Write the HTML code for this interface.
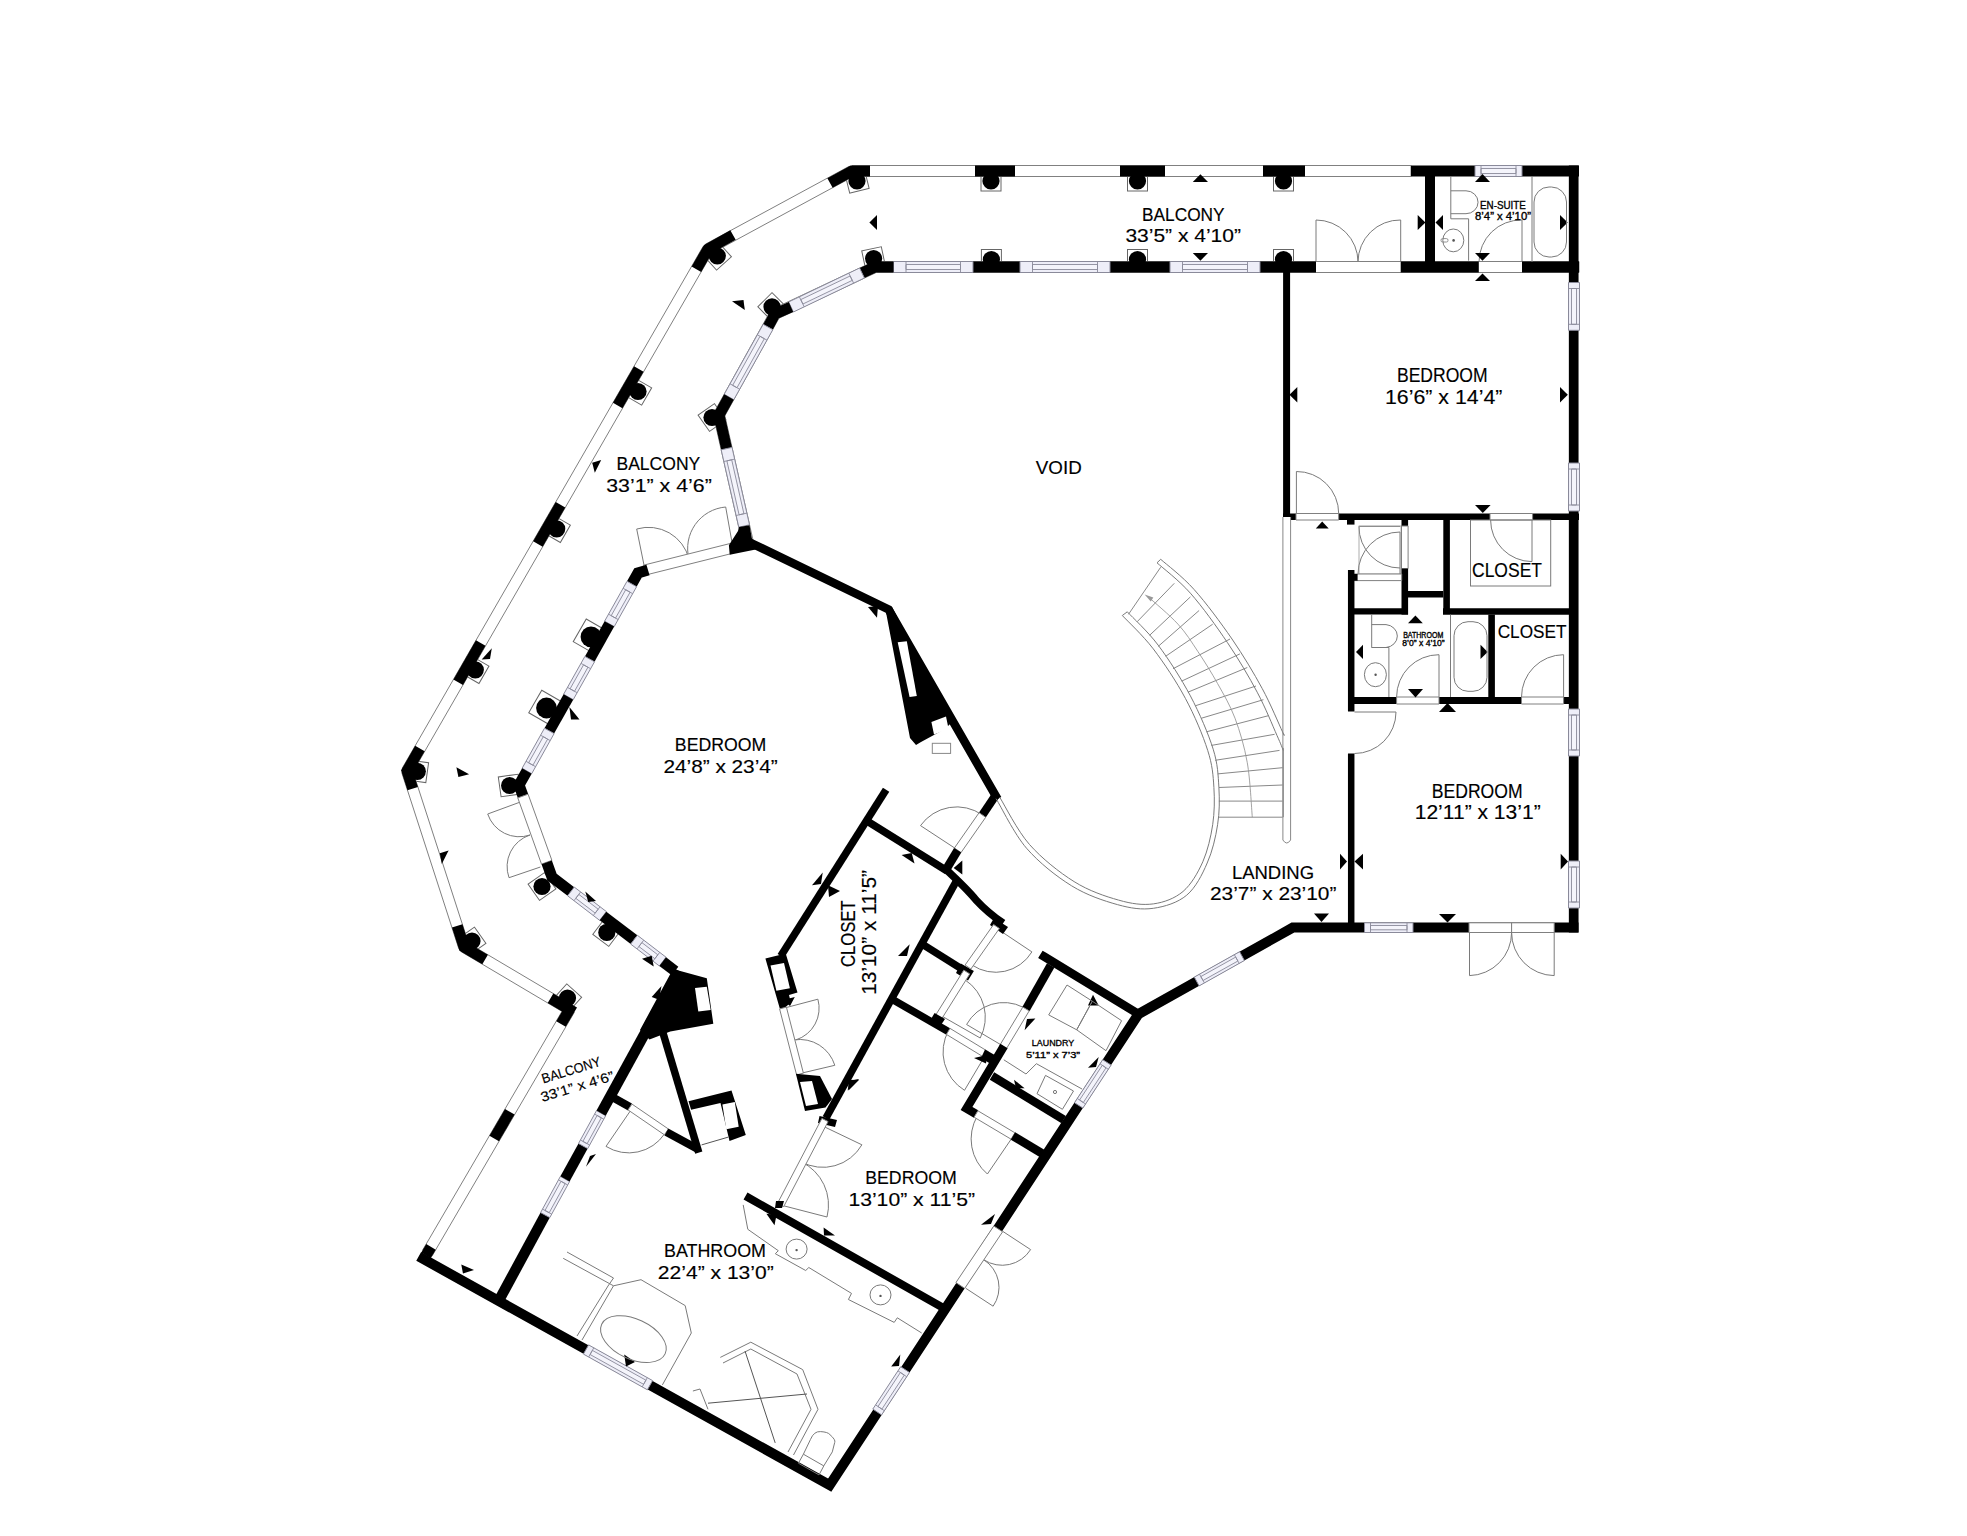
<!DOCTYPE html>
<html><head><meta charset="utf-8"><style>
html,body{margin:0;padding:0;background:#fff;width:1967px;height:1536px;overflow:hidden}
svg{display:block}
text{font-family:"Liberation Sans",sans-serif}
</style></head><body>
<svg width="1967" height="1536" viewBox="0 0 1967 1536">
<rect width="1967" height="1536" fill="#fff"/>
<rect x="847.0" y="171.0" width="20.0" height="20.0" fill="none" stroke="#666" stroke-width="1" transform="rotate(-14 857.0 181.0)"/>
<rect x="981.0" y="171.0" width="20.0" height="20.0" fill="none" stroke="#666" stroke-width="1" transform="rotate(0 991.0 181.0)"/>
<rect x="1127.5" y="171.0" width="20.0" height="20.0" fill="none" stroke="#666" stroke-width="1" transform="rotate(0 1137.5 181.0)"/>
<rect x="1273.5" y="171.0" width="20.0" height="20.0" fill="none" stroke="#666" stroke-width="1" transform="rotate(0 1283.5 181.0)"/>
<rect x="863.6" y="248.6" width="20.0" height="20.0" fill="none" stroke="#666" stroke-width="1" transform="rotate(-12 873.6 258.6)"/>
<rect x="981.4" y="249.5" width="20.0" height="20.0" fill="none" stroke="#666" stroke-width="1" transform="rotate(0 991.4 259.5)"/>
<rect x="1127.5" y="249.5" width="20.0" height="20.0" fill="none" stroke="#666" stroke-width="1" transform="rotate(0 1137.5 259.5)"/>
<rect x="1273.5" y="249.5" width="20.0" height="20.0" fill="none" stroke="#666" stroke-width="1" transform="rotate(0 1283.5 259.5)"/>
<rect x="707.3" y="246.0" width="20.0" height="20.0" fill="none" stroke="#666" stroke-width="1" transform="rotate(-42 717.3 256.0)"/>
<rect x="628.0" y="381.5" width="20.0" height="20.0" fill="none" stroke="#666" stroke-width="1" transform="rotate(30 638.0 391.5)"/>
<rect x="546.7" y="518.8" width="20.0" height="20.0" fill="none" stroke="#666" stroke-width="1" transform="rotate(30 556.7 528.8)"/>
<rect x="465.3" y="659.8" width="20.0" height="20.0" fill="none" stroke="#666" stroke-width="1" transform="rotate(30 475.3 669.8)"/>
<rect x="407.3" y="761.3" width="20.0" height="20.0" fill="none" stroke="#666" stroke-width="1" transform="rotate(8 417.3 771.3)"/>
<rect x="462.0" y="931.0" width="20.0" height="20.0" fill="none" stroke="#666" stroke-width="1" transform="rotate(-35 472.0 941.0)"/>
<rect x="557.5" y="988.0" width="20.0" height="20.0" fill="none" stroke="#666" stroke-width="1" transform="rotate(42 567.5 998.0)"/>
<rect x="762.0" y="296.8" width="20.0" height="20.0" fill="none" stroke="#666" stroke-width="1" transform="rotate(-45 772.0 306.8)"/>
<rect x="702.0" y="407.5" width="20.0" height="20.0" fill="none" stroke="#666" stroke-width="1" transform="rotate(-35 712.0 417.5)"/>
<rect x="578.0" y="623.8" width="26.0" height="26.0" fill="none" stroke="#666" stroke-width="1" transform="rotate(30 591.0 636.8)"/>
<rect x="533.5" y="695.0" width="26.0" height="26.0" fill="none" stroke="#666" stroke-width="1" transform="rotate(30 546.5 708.0)"/>
<rect x="499.6" y="775.5" width="20.0" height="20.0" fill="none" stroke="#666" stroke-width="1" transform="rotate(-8 509.6 785.5)"/>
<rect x="532.0" y="876.5" width="20.0" height="20.0" fill="none" stroke="#666" stroke-width="1" transform="rotate(-35 542.0 886.5)"/>
<rect x="596.8" y="922.4" width="20.0" height="20.0" fill="none" stroke="#666" stroke-width="1" transform="rotate(37 606.8 932.4)"/>
<path d="M1358.0,262.0 A42.0,42.0 0 0 0 1316.0,220.0 L1316.0,262.0" fill="none" stroke="#7a7a7a" stroke-width="1.0"/>
<path d="M1358.0,262.0 A42.0,42.0 0 0 1 1400.7,220.0 L1400.7,262.0" fill="none" stroke="#7a7a7a" stroke-width="1.0"/>
<path d="M1479.0,262.0 A42.0,42.0 0 0 1 1522.0,220.0 L1522.0,262.0" fill="none" stroke="#7a7a7a" stroke-width="1.0"/>
<path d="M1338.7,513.5 A42.0,42.0 0 0 0 1296.4,471.5 L1296.4,513.5" fill="none" stroke="#7a7a7a" stroke-width="1.0"/>
<path d="M1490.6,520.0 A41.6,41.6 0 0 0 1532.0,561.6 L1532.0,520.0" fill="none" stroke="#7a7a7a" stroke-width="1.0"/>
<path d="M1521.5,697.0 A42.3,42.3 0 0 1 1563.6,654.7 L1563.6,697.0" fill="none" stroke="#7a7a7a" stroke-width="1.0"/>
<path d="M1396.6,697.0 A42.3,42.3 0 0 1 1439.0,654.7 L1439.0,697.0" fill="none" stroke="#7a7a7a" stroke-width="1.0"/>
<path d="M1354.5,753.5 A41.5,41.5 0 0 0 1396.0,712.0 L1354.5,712.0" fill="none" stroke="#7a7a7a" stroke-width="1.0"/>
<path d="M1400.0,568.0 A41.0,41.0 0 0 1 1359.0,526.4 L1400.0,526.4" fill="none" stroke="#7a7a7a" stroke-width="1.0"/>
<path d="M1358.0,574.0 A42.0,42.0 0 0 1 1400.0,532.0 L1400.0,574.0" fill="none" stroke="#7a7a7a" stroke-width="1.0"/>
<rect x="1359" y="526" width="42" height="48" fill="none" stroke="#999" stroke-width="0.8"/>
<path d="M1511.6,932.5 A43.1,43.1 0 0 1 1469.5,975.6 L1469.5,932.5" fill="none" stroke="#7a7a7a" stroke-width="1.0"/>
<path d="M1511.6,932.5 A43.1,43.1 0 0 0 1554.2,975.6 L1554.2,932.5" fill="none" stroke="#7a7a7a" stroke-width="1.0"/>
<path d="M983.8,1259.8 A33.6,33.6 0 0 0 1030.6,1249.6 L1002.5,1231.2" fill="none" stroke="#7a7a7a" stroke-width="1.0"/>
<path d="M983.8,1259.8 A32.7,32.7 0 0 1 993.1,1306.2 L965.8,1288.3" fill="none" stroke="#7a7a7a" stroke-width="1.0"/>
<path d="M982.4,815.0 A44.5,44.5 0 0 0 920.5,825.6 L957.7,850.0" fill="none" stroke="#7a7a7a" stroke-width="1.0"/>
<path d="M972.0,965.0 A42.3,42.3 0 0 0 1031.9,951.9 L996.7,928.4" fill="none" stroke="#7a7a7a" stroke-width="1.0"/>
<path d="M965.2,980.0 A44.6,44.6 0 0 1 980.2,1038.0 L941.5,1015.9" fill="none" stroke="#7a7a7a" stroke-width="1.0"/>
<path d="M1023.2,1007.3 A42.3,42.3 0 0 0 966.6,1024.5 L1003.0,1046.0" fill="none" stroke="#7a7a7a" stroke-width="1.0"/>
<path d="M948.7,1030.2 A44.9,44.9 0 0 0 964.5,1090.3 L987.4,1051.7" fill="none" stroke="#7a7a7a" stroke-width="1.0"/>
<path d="M977.3,1116.0 A45.8,45.8 0 0 0 987.4,1174.0 L1013.2,1136.2" fill="none" stroke="#7a7a7a" stroke-width="1.0"/>
<path d="M689.0,559.0 A41.8,41.8 0 0 0 636.7,529.0 L645.0,570.0" fill="none" stroke="#7a7a7a" stroke-width="1.0"/>
<path d="M689.0,559.0 A41.6,41.6 0 0 1 725.7,507.0 L733.0,548.0" fill="none" stroke="#7a7a7a" stroke-width="1.0"/>
<path d="M530.0,835.0 A33.3,33.3 0 0 1 487.7,814.0 L519.0,802.5" fill="none" stroke="#7a7a7a" stroke-width="1.0"/>
<path d="M530.0,835.0 A33.2,33.2 0 0 0 509.0,877.7 L540.4,867.0" fill="none" stroke="#7a7a7a" stroke-width="1.0"/>
<path d="M664.7,1133.7 A43.2,43.2 0 0 1 606.0,1146.4 L630.4,1110.8" fill="none" stroke="#7a7a7a" stroke-width="1.0"/>
<path d="M795.9,1039.9 A33.3,33.3 0 0 0 817.9,999.2 L785.7,1007.7" fill="none" stroke="#7a7a7a" stroke-width="1.0"/>
<path d="M794.2,1039.9 A36.6,36.6 0 0 1 834.8,1065.3 L799.2,1073.7" fill="none" stroke="#7a7a7a" stroke-width="1.0"/>
<path d="M801.0,1161.7 A45.1,45.1 0 0 0 861.9,1144.8 L821.2,1125.3" fill="none" stroke="#7a7a7a" stroke-width="1.0"/>
<path d="M801.0,1161.7 A47.9,47.9 0 0 1 827.0,1217.0 L780.6,1205.0" fill="none" stroke="#7a7a7a" stroke-width="1.0"/>
<polygon points="1411.0,165.5 852.0,165.5 852.0,176.5 1411.0,176.5" fill="#fff" stroke="#808080" stroke-width="1.0"/>
<polygon points="849.4,166.2 705.4,244.2 710.6,253.8 854.6,175.8" fill="#fff" stroke="#808080" stroke-width="1.0"/>
<polygon points="703.2,246.3 402.2,768.3 411.8,773.7 712.8,251.7" fill="#fff" stroke="#808080" stroke-width="1.0"/>
<polygon points="401.8,772.7 458.8,948.7 469.2,945.3 412.2,769.3" fill="#fff" stroke="#808080" stroke-width="1.0"/>
<polygon points="461.2,951.7 566.7,1014.2 572.3,1004.8 466.8,942.3" fill="#fff" stroke="#808080" stroke-width="1.0"/>
<polygon points="564.7,1006.7 422.6,1250.2 432.2,1255.8 574.3,1012.3" fill="#fff" stroke="#808080" stroke-width="1.0"/>
<polyline points="870.0,171.0 852.0,171.0 830.0,183.0" fill="none" stroke="#000" stroke-width="11" stroke-linejoin="miter" stroke-miterlimit="10" stroke-linecap="butt"/>
<line x1="975.0" y1="171.0" x2="1015.0" y2="171.0" stroke="#000" stroke-width="11" stroke-linecap="butt"/>
<line x1="1120.0" y1="171.0" x2="1165.0" y2="171.0" stroke="#000" stroke-width="11" stroke-linecap="butt"/>
<line x1="1263.0" y1="171.0" x2="1305.0" y2="171.0" stroke="#000" stroke-width="11" stroke-linecap="butt"/>
<polyline points="733.0,235.0 708.0,249.0 696.4,269.2" fill="none" stroke="#000" stroke-width="11" stroke-linejoin="miter" stroke-miterlimit="10" stroke-linecap="butt"/>
<line x1="638.8" y1="369.1" x2="617.7" y2="405.6" stroke="#000" stroke-width="11" stroke-linecap="butt"/>
<line x1="560.5" y1="504.8" x2="537.9" y2="543.9" stroke="#000" stroke-width="11" stroke-linecap="butt"/>
<line x1="480.7" y1="643.1" x2="458.2" y2="682.3" stroke="#000" stroke-width="11" stroke-linecap="butt"/>
<polyline points="419.9,748.6 407.0,771.0 412.7,788.6" fill="none" stroke="#000" stroke-width="11" stroke-linejoin="miter" stroke-miterlimit="10" stroke-linecap="butt"/>
<polyline points="457.2,925.9 464.0,947.0 485.1,959.5" fill="none" stroke="#000" stroke-width="11" stroke-linejoin="miter" stroke-miterlimit="10" stroke-linecap="butt"/>
<polyline points="550.5,998.2 569.5,1009.5 561.0,1024.1" fill="none" stroke="#000" stroke-width="11" stroke-linejoin="miter" stroke-miterlimit="10" stroke-linecap="butt"/>
<line x1="509.8" y1="1111.8" x2="494.2" y2="1138.6" stroke="#000" stroke-width="11" stroke-linecap="butt"/>
<line x1="431.0" y1="1246.9" x2="426.0" y2="1255.4" stroke="#000" stroke-width="11" stroke-linecap="butt"/>
<polygon points="1579.0,261.5 875.0,261.5 875.0,272.5 1579.0,272.5" fill="#fff" stroke="#808080" stroke-width="1.0"/>
<polygon points="872.7,262.0 772.7,309.0 777.3,319.0 877.3,272.0" fill="#fff" stroke="#808080" stroke-width="1.0"/>
<polygon points="770.2,311.3 714.2,412.3 723.8,417.7 779.8,316.7" fill="#fff" stroke="#808080" stroke-width="1.0"/>
<polygon points="713.6,416.2 742.6,544.2 753.4,541.8 724.4,413.8" fill="#fff" stroke="#808080" stroke-width="1.0"/>
<line x1="1260.0" y1="267.0" x2="1316.0" y2="267.0" stroke="#000" stroke-width="11" stroke-linecap="butt"/>
<line x1="1400.7" y1="267.0" x2="1478.8" y2="267.0" stroke="#000" stroke-width="11" stroke-linecap="butt"/>
<line x1="1522.0" y1="267.0" x2="1579.0" y2="267.0" stroke="#000" stroke-width="11" stroke-linecap="butt"/>
<line x1="973.0" y1="267.0" x2="1020.0" y2="267.0" stroke="#000" stroke-width="11" stroke-linecap="butt"/>
<line x1="1110.0" y1="267.0" x2="1170.0" y2="267.0" stroke="#000" stroke-width="11" stroke-linecap="butt"/>
<polygon points="893.5,272.5 973.0,272.5 973.0,261.5 893.5,261.5" fill="#eeeef8" stroke="#8a8a9a" stroke-width="1.0"/>
<polygon points="906.0,269.5 960.5,269.5 960.5,264.5 906.0,264.5" fill="#f4f4fb" stroke="#8a8a9a" stroke-width="0.9"/>
<line x1="906.0" y1="272.5" x2="906.0" y2="261.5" stroke="#8a8a9a" stroke-width="0.9"/>
<line x1="960.5" y1="272.5" x2="960.5" y2="261.5" stroke="#8a8a9a" stroke-width="0.9"/>
<polygon points="1020.0,272.5 1110.0,272.5 1110.0,261.5 1020.0,261.5" fill="#eeeef8" stroke="#8a8a9a" stroke-width="1.0"/>
<polygon points="1032.5,269.5 1097.5,269.5 1097.5,264.5 1032.5,264.5" fill="#f4f4fb" stroke="#8a8a9a" stroke-width="0.9"/>
<line x1="1032.5" y1="272.5" x2="1032.5" y2="261.5" stroke="#8a8a9a" stroke-width="0.9"/>
<line x1="1097.5" y1="272.5" x2="1097.5" y2="261.5" stroke="#8a8a9a" stroke-width="0.9"/>
<polygon points="1170.0,272.5 1260.0,272.5 1260.0,261.5 1170.0,261.5" fill="#eeeef8" stroke="#8a8a9a" stroke-width="1.0"/>
<polygon points="1182.5,269.5 1247.5,269.5 1247.5,264.5 1182.5,264.5" fill="#f4f4fb" stroke="#8a8a9a" stroke-width="0.9"/>
<line x1="1182.5" y1="272.5" x2="1182.5" y2="261.5" stroke="#8a8a9a" stroke-width="0.9"/>
<line x1="1247.5" y1="272.5" x2="1247.5" y2="261.5" stroke="#8a8a9a" stroke-width="0.9"/>
<polyline points="893.5,267.0 875.0,267.0 862.0,273.0" fill="none" stroke="#000" stroke-width="11" stroke-linejoin="miter" stroke-miterlimit="10" stroke-linecap="butt"/>
<polygon points="859.6,268.0 788.6,302.0 793.4,312.0 864.4,278.0" fill="#eeeef8" stroke="#8a8a9a" stroke-width="1.0"/>
<polygon points="850.1,276.0 800.8,299.6 802.9,304.0 852.2,280.4" fill="#f4f4fb" stroke="#8a8a9a" stroke-width="0.9"/>
<line x1="848.8" y1="273.2" x2="853.6" y2="283.1" stroke="#8a8a9a" stroke-width="0.9"/>
<line x1="799.4" y1="296.9" x2="804.2" y2="306.8" stroke="#8a8a9a" stroke-width="0.9"/>
<polyline points="791.0,307.0 775.0,314.0 768.0,327.0" fill="none" stroke="#000" stroke-width="11" stroke-linejoin="miter" stroke-miterlimit="10" stroke-linecap="butt"/>
<polygon points="763.2,324.3 724.2,394.3 733.8,399.7 772.8,329.7" fill="#eeeef8" stroke="#8a8a9a" stroke-width="1.0"/>
<polygon points="760.0,336.3 732.7,385.3 737.0,387.7 764.3,338.7" fill="#f4f4fb" stroke="#8a8a9a" stroke-width="0.9"/>
<line x1="757.4" y1="334.8" x2="767.0" y2="340.2" stroke="#8a8a9a" stroke-width="0.9"/>
<line x1="730.0" y1="383.8" x2="739.6" y2="389.2" stroke="#8a8a9a" stroke-width="0.9"/>
<polyline points="729.0,397.0 719.0,415.0 726.6,448.6" fill="none" stroke="#000" stroke-width="11" stroke-linejoin="miter" stroke-miterlimit="10" stroke-linecap="butt"/>
<polygon points="721.2,449.8 738.8,527.2 749.5,524.8 732.0,447.4" fill="#eeeef8" stroke="#8a8a9a" stroke-width="1.0"/>
<polygon points="726.9,460.9 739.1,514.8 743.9,513.7 731.7,459.8" fill="#f4f4fb" stroke="#8a8a9a" stroke-width="0.9"/>
<line x1="723.9" y1="461.5" x2="734.6" y2="459.1" stroke="#8a8a9a" stroke-width="0.9"/>
<line x1="736.1" y1="515.5" x2="746.9" y2="513.1" stroke="#8a8a9a" stroke-width="0.9"/>
<polyline points="418.7,1256.4 829.7,1485.2 1138.5,1014.1 1292.8,927.6 1578.5,927.6" fill="none" stroke="#000" stroke-width="10" stroke-linejoin="miter" stroke-miterlimit="10" stroke-linecap="butt"/>
<polyline points="1573.7,165.4 1573.7,932.5" fill="none" stroke="#000" stroke-width="9.7" stroke-linejoin="miter" stroke-miterlimit="10" stroke-linecap="butt"/>
<line x1="1411.0" y1="171.0" x2="1579.0" y2="171.0" stroke="#000" stroke-width="11" stroke-linecap="butt"/>
<polygon points="1475.0,176.5 1522.0,176.5 1522.0,165.5 1475.0,165.5" fill="#eeeef8" stroke="#8a8a9a" stroke-width="1.0"/>
<polygon points="1481.0,173.5 1516.0,173.5 1516.0,168.5 1481.0,168.5" fill="#f4f4fb" stroke="#8a8a9a" stroke-width="0.9"/>
<line x1="1481.0" y1="176.5" x2="1481.0" y2="165.5" stroke="#8a8a9a" stroke-width="0.9"/>
<line x1="1516.0" y1="176.5" x2="1516.0" y2="165.5" stroke="#8a8a9a" stroke-width="0.9"/>
<polyline points="1430.0,176.0 1430.0,262.0" fill="none" stroke="#000" stroke-width="10" stroke-linejoin="miter" stroke-miterlimit="10" stroke-linecap="butt"/>
<polyline points="1286.6,272.0 1286.6,520.0" fill="none" stroke="#000" stroke-width="7" stroke-linejoin="miter" stroke-miterlimit="10" stroke-linecap="butt"/>
<polyline points="1283.0,516.8 1579.0,516.8" fill="none" stroke="#000" stroke-width="6.5" stroke-linejoin="miter" stroke-miterlimit="10" stroke-linecap="butt"/>
<polygon points="731.8,543.1 643.8,565.1 646.2,574.9 734.2,552.9" fill="#fff" stroke="#808080" stroke-width="1.0"/>
<polygon points="739.1,527.1 749.5,525.3 752.1,539.6 760.0,544.0 755.7,549.5 729.7,554.7 728.9,545.3 738.0,531.0" fill="#000" stroke="none" stroke-width="1"/>
<polyline points="648.0,570.0 638.0,573.0 631.8,584.0" fill="none" stroke="#000" stroke-width="11" stroke-linejoin="miter" stroke-miterlimit="10" stroke-linecap="butt"/>
<polygon points="627.0,581.3 604.6,621.2 614.2,626.6 636.6,586.7" fill="#eeeef8" stroke="#8a8a9a" stroke-width="1.0"/>
<polygon points="625.7,589.8 611.2,615.7 615.5,618.1 630.1,592.2" fill="#f4f4fb" stroke="#8a8a9a" stroke-width="0.9"/>
<line x1="623.1" y1="588.3" x2="632.7" y2="593.7" stroke="#8a8a9a" stroke-width="0.9"/>
<line x1="608.6" y1="614.2" x2="618.2" y2="619.6" stroke="#8a8a9a" stroke-width="0.9"/>
<line x1="609.4" y1="623.9" x2="589.7" y2="659.1" stroke="#000" stroke-width="11" stroke-linecap="butt"/>
<polygon points="584.9,656.4 563.6,694.3 573.2,699.7 594.5,661.8" fill="#eeeef8" stroke="#8a8a9a" stroke-width="1.0"/>
<polygon points="583.6,664.8 570.1,688.8 574.5,691.3 587.9,667.3" fill="#f4f4fb" stroke="#8a8a9a" stroke-width="0.9"/>
<line x1="581.0" y1="663.4" x2="590.6" y2="668.7" stroke="#8a8a9a" stroke-width="0.9"/>
<line x1="567.5" y1="687.4" x2="577.1" y2="692.7" stroke="#8a8a9a" stroke-width="0.9"/>
<line x1="568.4" y1="697.0" x2="549.3" y2="730.9" stroke="#000" stroke-width="11" stroke-linecap="butt"/>
<polygon points="544.5,728.2 522.1,768.3 531.7,773.7 554.1,733.6" fill="#eeeef8" stroke="#8a8a9a" stroke-width="1.0"/>
<polygon points="543.3,736.7 528.6,762.8 532.9,765.2 547.6,739.1" fill="#f4f4fb" stroke="#8a8a9a" stroke-width="0.9"/>
<line x1="540.6" y1="735.2" x2="550.2" y2="740.6" stroke="#8a8a9a" stroke-width="0.9"/>
<line x1="526.0" y1="761.3" x2="535.6" y2="766.7" stroke="#8a8a9a" stroke-width="0.9"/>
<polyline points="526.9,771.0 519.0,785.0 523.0,796.0" fill="none" stroke="#000" stroke-width="11" stroke-linejoin="miter" stroke-miterlimit="10" stroke-linecap="butt"/>
<polygon points="517.8,797.9 541.5,864.1 551.9,860.4 528.1,794.2" fill="#fff" stroke="#808080" stroke-width="1.0"/>
<polyline points="546.7,862.3 552.0,877.0 570.9,891.5" fill="none" stroke="#000" stroke-width="11" stroke-linejoin="miter" stroke-miterlimit="10" stroke-linecap="butt"/>
<polygon points="567.6,895.8 599.7,920.4 606.4,911.6 574.3,887.1" fill="#eeeef8" stroke="#8a8a9a" stroke-width="1.0"/>
<polygon points="575.8,898.3 595.2,913.1 598.2,909.2 578.8,894.4" fill="#f4f4fb" stroke="#8a8a9a" stroke-width="0.9"/>
<line x1="574.0" y1="900.7" x2="580.6" y2="892.0" stroke="#8a8a9a" stroke-width="0.9"/>
<line x1="593.3" y1="915.5" x2="600.0" y2="906.8" stroke="#8a8a9a" stroke-width="0.9"/>
<line x1="603.0" y1="916.0" x2="634.0" y2="939.7" stroke="#000" stroke-width="11" stroke-linecap="butt"/>
<polygon points="630.7,944.1 659.4,966.0 666.0,957.2 637.4,935.3" fill="#eeeef8" stroke="#8a8a9a" stroke-width="1.0"/>
<polygon points="638.9,946.5 654.8,958.7 657.8,954.8 641.9,942.6" fill="#f4f4fb" stroke="#8a8a9a" stroke-width="0.9"/>
<line x1="637.1" y1="948.9" x2="643.7" y2="940.2" stroke="#8a8a9a" stroke-width="0.9"/>
<line x1="653.0" y1="961.1" x2="659.7" y2="952.4" stroke="#8a8a9a" stroke-width="0.9"/>
<line x1="662.7" y1="961.6" x2="675.0" y2="971.0" stroke="#000" stroke-width="11" stroke-linecap="butt"/>
<polyline points="751.0,543.0 888.6,609.5 995.5,795.5" fill="none" stroke="#000" stroke-width="8.5" stroke-linejoin="miter" stroke-miterlimit="10" stroke-linecap="square"/>
<polyline points="995.5,795.5 982.4,815.0" fill="none" stroke="#000" stroke-width="8.5" stroke-linejoin="miter" stroke-miterlimit="10" stroke-linecap="butt"/>
<polygon points="979.1,812.7 954.4,848.0 961.0,852.6 985.7,817.3" fill="#fff" stroke="#808080" stroke-width="1.0"/>
<polyline points="957.7,850.3 947.0,868.0" fill="none" stroke="#000" stroke-width="8.5" stroke-linejoin="miter" stroke-miterlimit="10" stroke-linecap="butt"/>
<polygon points="885.0,607.0 892.0,607.0 952.0,722.0 945.0,729.0 921.0,742.0 916.0,745.0 910.0,738.0" fill="#000" stroke="none" stroke-width="1"/>
<polygon points="897.7,642.2 906.8,641.2 916.8,696.0 909.6,696.9" fill="#fff" stroke="none" stroke-width="1"/>
<polygon points="931.4,722.0 946.0,716.5 948.6,729.0 934.0,734.5" fill="#fff" stroke="none" stroke-width="1"/>
<rect x="932.3" y="743.3" width="18.3" height="10.1" fill="none" stroke="#888" stroke-width="1"/>
<line x1="497.5" y1="1303.0" x2="545.2" y2="1215.1" stroke="#000" stroke-width="10.5" stroke-linecap="butt"/>
<polygon points="549.8,1217.6 569.6,1181.5 560.4,1176.4 540.6,1212.6" fill="#eeeef8" stroke="#8a8a9a" stroke-width="1.0"/>
<polygon points="549.2,1212.7 565.2,1183.6 561.0,1181.3 545.0,1210.5" fill="#f4f4fb" stroke="#8a8a9a" stroke-width="0.9"/>
<line x1="551.7" y1="1214.1" x2="542.5" y2="1209.1" stroke="#8a8a9a" stroke-width="0.9"/>
<line x1="567.7" y1="1185.0" x2="558.5" y2="1179.9" stroke="#8a8a9a" stroke-width="0.9"/>
<line x1="565.0" y1="1178.9" x2="583.1" y2="1146.0" stroke="#000" stroke-width="10.5" stroke-linecap="butt"/>
<polygon points="587.7,1148.6 605.7,1115.7 596.5,1110.6 578.5,1143.5" fill="#eeeef8" stroke="#8a8a9a" stroke-width="1.0"/>
<polygon points="587.1,1143.7 601.3,1117.8 597.1,1115.5 582.9,1141.4" fill="#f4f4fb" stroke="#8a8a9a" stroke-width="0.9"/>
<line x1="589.6" y1="1145.0" x2="580.4" y2="1140.0" stroke="#8a8a9a" stroke-width="0.9"/>
<line x1="603.8" y1="1119.2" x2="594.6" y2="1114.1" stroke="#8a8a9a" stroke-width="0.9"/>
<line x1="601.1" y1="1113.1" x2="679.1" y2="971.0" stroke="#000" stroke-width="10.5" stroke-linecap="butt"/>
<polygon points="673.0,969.0 706.8,978.2 713.3,1023.8 670.3,1031.6 649.5,1039.4 640.0,1030.0" fill="#000" stroke="none" stroke-width="1"/>
<polygon points="695.0,988.0 706.8,986.7 710.7,1010.1 698.3,1011.4" fill="#fff" stroke="none" stroke-width="1"/>
<polyline points="663.0,1033.0 697.7,1149.0" fill="none" stroke="#000" stroke-width="7.5" stroke-linejoin="miter" stroke-miterlimit="10" stroke-linecap="square"/>
<polyline points="613.9,1098.0 630.0,1107.0" fill="none" stroke="#000" stroke-width="8" stroke-linejoin="miter" stroke-miterlimit="10" stroke-linecap="butt"/>
<polygon points="628.0,1109.9 664.4,1134.8 668.4,1129.0 632.0,1104.1" fill="#fff" stroke="#808080" stroke-width="1.0"/>
<polyline points="666.4,1131.9 697.7,1149.0" fill="none" stroke="#000" stroke-width="8" stroke-linejoin="miter" stroke-miterlimit="10" stroke-linecap="butt"/>
<polygon points="688.5,1101.2 731.5,1090.6 745.8,1135.1 729.5,1141.0 720.5,1103.0 691.1,1109.8" fill="#000" stroke="none" stroke-width="1"/>
<polygon points="722.4,1104.5 734.8,1101.9 738.7,1126.7 726.3,1129.3" fill="#fff" stroke="none" stroke-width="1"/>
<path d="M701.6,1144.9 L728.3,1137.1" fill="none" stroke="#555" stroke-width="1"/>
<polyline points="886.1,789.8 780.8,956.0" fill="none" stroke="#000" stroke-width="7.5" stroke-linejoin="miter" stroke-miterlimit="10" stroke-linecap="butt"/>
<polyline points="867.8,821.5 947.2,871.0" fill="none" stroke="#000" stroke-width="7.5" stroke-linejoin="miter" stroke-miterlimit="10" stroke-linecap="butt"/>
<path d="M945,868.5 Q968,890 976,900 Q988,913 1003.2,923.2" fill="none" stroke="#000" stroke-width="7.5"/>
<polygon points="994.0,918.0 1008.0,927.0 1003.0,934.0 990.0,925.0" fill="#000" stroke="none" stroke-width="1"/>
<polyline points="957.5,879.0 826.0,1118.0" fill="none" stroke="#000" stroke-width="7.5" stroke-linejoin="miter" stroke-miterlimit="10" stroke-linecap="butt"/>
<polyline points="921.0,943.4 966.8,972.2" fill="none" stroke="#000" stroke-width="7.5" stroke-linejoin="miter" stroke-miterlimit="10" stroke-linecap="butt"/>
<polygon points="960.8,963.4 973.9,971.0 968.0,980.4 956.0,973.0" fill="#000" stroke="none" stroke-width="1"/>
<polygon points="970.9,969.0 999.4,928.5 993.6,924.5 965.1,965.0" fill="#fff" stroke="#808080" stroke-width="1.0"/>
<polyline points="889.0,997.5 948.2,1031.4" fill="none" stroke="#000" stroke-width="7.5" stroke-linejoin="miter" stroke-miterlimit="10" stroke-linecap="butt"/>
<polygon points="946.4,1034.4 985.2,1058.0 988.8,1052.0 950.0,1028.4" fill="#fff" stroke="#808080" stroke-width="1.0"/>
<polygon points="985.0,1049.4 1000.0,1058.0 994.0,1066.0 981.0,1058.0" fill="#000" stroke="none" stroke-width="1"/>
<polygon points="963.8,970.1 935.0,1016.1 941.0,1019.9 969.8,973.9" fill="#fff" stroke="#808080" stroke-width="1.0"/>
<polygon points="934.6,1013.0 945.0,1019.0 941.0,1025.0 931.0,1019.0" fill="#000" stroke="none" stroke-width="1"/>
<polygon points="765.4,958.6 785.7,953.5 797.5,992.5 789.0,995.0 790.8,1002.6 784.0,1008.5 779.8,1008.5" fill="#000" stroke="none" stroke-width="1"/>
<polygon points="770.5,965.4 784.0,962.9 789.9,988.2 776.4,990.8" fill="#fff" stroke="none" stroke-width="1"/>
<polygon points="779.6,1008.9 796.6,1074.9 803.4,1073.1 786.4,1007.1" fill="#fff" stroke="#808080" stroke-width="1.0"/>
<polygon points="795.9,1073.7 820.0,1076.0 832.0,1099.0 825.5,1107.6 805.0,1111.0" fill="#000" stroke="none" stroke-width="1"/>
<polygon points="800.0,1082.0 812.0,1081.0 818.0,1104.0 806.0,1106.0" fill="#fff" stroke="none" stroke-width="1"/>
<polygon points="819.5,1116.0 837.0,1120.0 835.0,1127.0 818.0,1123.0" fill="#000" stroke="none" stroke-width="1"/>
<polygon points="821.9,1118.4 777.5,1203.4 783.7,1206.6 828.1,1121.6" fill="#fff" stroke="#808080" stroke-width="1.0"/>
<polygon points="776.0,1201.0 784.0,1201.0 782.0,1208.0 775.0,1208.0" fill="#000" stroke="none" stroke-width="1"/>
<polyline points="749.0,1198.0 940.0,1306.0" fill="none" stroke="#000" stroke-width="8" stroke-linejoin="miter" stroke-miterlimit="10" stroke-linecap="square"/>
<polyline points="1044.0,956.5 1135.0,1012.0" fill="none" stroke="#000" stroke-width="8.5" stroke-linejoin="miter" stroke-miterlimit="10" stroke-linecap="square"/>
<polyline points="1050.7,965.4 1026.0,1009.0" fill="none" stroke="#000" stroke-width="8.5" stroke-linejoin="miter" stroke-miterlimit="10" stroke-linecap="butt"/>
<polygon points="1022.8,1007.1 999.3,1046.1 1005.7,1049.9 1029.2,1010.9" fill="#fff" stroke="#808080" stroke-width="1.0"/>
<polyline points="1004.0,1046.0 966.5,1108.5 976.0,1114.0" fill="none" stroke="#000" stroke-width="8.5" stroke-linejoin="miter" stroke-miterlimit="10" stroke-linecap="butt"/>
<polyline points="992.0,1076.0 1063.7,1119.7" fill="none" stroke="#000" stroke-width="8.5" stroke-linejoin="miter" stroke-miterlimit="10" stroke-linecap="butt"/>
<polygon points="974.1,1117.2 1011.1,1139.2 1014.9,1132.8 977.9,1110.8" fill="#fff" stroke="#808080" stroke-width="1.0"/>
<polyline points="1013.0,1136.0 1048.0,1157.0" fill="none" stroke="#000" stroke-width="8.5" stroke-linejoin="miter" stroke-miterlimit="10" stroke-linecap="butt"/>
<polygon points="1296.0,520.0 1338.7,520.0 1338.7,513.5 1296.0,513.5" fill="#fff" stroke="#808080" stroke-width="1.0"/>
<polygon points="1490.0,520.0 1532.6,520.0 1532.6,513.5 1490.0,513.5" fill="#fff" stroke="#808080" stroke-width="1.0"/>
<polygon points="1347.0,517.0 1354.5,517.0 1354.5,524.6 1347.0,524.6" fill="#000" stroke="none" stroke-width="1"/>
<polyline points="1404.8,520.0 1404.8,526.0" fill="none" stroke="#000" stroke-width="6.6" stroke-linejoin="miter" stroke-miterlimit="10" stroke-linecap="butt"/>
<polygon points="1401.5,526.0 1401.5,568.6 1408.1,568.6 1408.1,526.0" fill="#fff" stroke="#808080" stroke-width="1.0"/>
<polyline points="1404.8,568.6 1404.8,614.6" fill="none" stroke="#000" stroke-width="6.6" stroke-linejoin="miter" stroke-miterlimit="10" stroke-linecap="butt"/>
<polygon points="1354.0,580.6 1401.7,580.6 1401.7,574.0 1354.0,574.0" fill="#fff" stroke="#808080" stroke-width="1.0"/>
<polygon points="1354.0,574.0 1357.6,574.0 1357.6,580.7 1354.0,580.7" fill="#000" stroke="none" stroke-width="1"/>
<polyline points="1408.0,594.2 1443.3,594.2" fill="none" stroke="#000" stroke-width="6.4" stroke-linejoin="miter" stroke-miterlimit="10" stroke-linecap="butt"/>
<polyline points="1446.6,520.0 1446.6,611.7" fill="none" stroke="#000" stroke-width="6.6" stroke-linejoin="miter" stroke-miterlimit="10" stroke-linecap="butt"/>
<polyline points="1443.0,611.5 1569.0,611.5" fill="none" stroke="#000" stroke-width="6.3" stroke-linejoin="miter" stroke-miterlimit="10" stroke-linecap="butt"/>
<polyline points="1351.2,570.0 1351.2,711.4" fill="none" stroke="#000" stroke-width="6.5" stroke-linejoin="miter" stroke-miterlimit="10" stroke-linecap="butt"/>
<polyline points="1351.2,753.5 1351.2,927.0" fill="none" stroke="#000" stroke-width="6.5" stroke-linejoin="miter" stroke-miterlimit="10" stroke-linecap="butt"/>
<polyline points="1348.0,611.3 1408.0,611.3" fill="none" stroke="#000" stroke-width="6.3" stroke-linejoin="miter" stroke-miterlimit="10" stroke-linecap="butt"/>
<polyline points="1348.0,700.5 1569.0,700.5" fill="none" stroke="#000" stroke-width="7" stroke-linejoin="miter" stroke-miterlimit="10" stroke-linecap="butt"/>
<polygon points="1396.6,704.0 1439.0,704.0 1439.0,697.0 1396.6,697.0" fill="#fff" stroke="#808080" stroke-width="1.0"/>
<polygon points="1521.5,704.0 1563.6,704.0 1563.6,697.0 1521.5,697.0" fill="#fff" stroke="#808080" stroke-width="1.0"/>
<polyline points="1491.6,614.6 1491.6,697.0" fill="none" stroke="#000" stroke-width="6.6" stroke-linejoin="miter" stroke-miterlimit="10" stroke-linecap="butt"/>
<polygon points="1364.5,932.5 1413.0,932.5 1413.0,922.8 1364.5,922.8" fill="#eeeef8" stroke="#8a8a9a" stroke-width="1.0"/>
<polygon points="1370.5,929.8 1407.0,929.8 1407.0,925.5 1370.5,925.5" fill="#f4f4fb" stroke="#8a8a9a" stroke-width="0.9"/>
<line x1="1370.5" y1="932.5" x2="1370.5" y2="922.8" stroke="#8a8a9a" stroke-width="0.9"/>
<line x1="1407.0" y1="932.5" x2="1407.0" y2="922.8" stroke="#8a8a9a" stroke-width="0.9"/>
<polygon points="1469.0,932.5 1554.2,932.5 1554.2,922.8 1469.0,922.8" fill="#fff" stroke="#808080" stroke-width="1.0"/>
<path d="M1511.6,922.8 L1511.6,932.5" fill="none" stroke="#777" stroke-width="1.0"/>
<polygon points="1568.5,282.5 1568.5,330.3 1579.5,330.3 1579.5,282.5" fill="#eeeef8" stroke="#8a8a9a" stroke-width="1.0"/>
<polygon points="1571.5,288.5 1571.5,324.3 1576.5,324.3 1576.5,288.5" fill="#f4f4fb" stroke="#8a8a9a" stroke-width="0.9"/>
<line x1="1568.5" y1="288.5" x2="1579.5" y2="288.5" stroke="#8a8a9a" stroke-width="0.9"/>
<line x1="1568.5" y1="324.3" x2="1579.5" y2="324.3" stroke="#8a8a9a" stroke-width="0.9"/>
<polygon points="1568.5,463.0 1568.5,511.0 1579.5,511.0 1579.5,463.0" fill="#eeeef8" stroke="#8a8a9a" stroke-width="1.0"/>
<polygon points="1571.5,469.0 1571.5,505.0 1576.5,505.0 1576.5,469.0" fill="#f4f4fb" stroke="#8a8a9a" stroke-width="0.9"/>
<line x1="1568.5" y1="469.0" x2="1579.5" y2="469.0" stroke="#8a8a9a" stroke-width="0.9"/>
<line x1="1568.5" y1="505.0" x2="1579.5" y2="505.0" stroke="#8a8a9a" stroke-width="0.9"/>
<polygon points="1568.5,709.0 1568.5,756.0 1579.5,756.0 1579.5,709.0" fill="#eeeef8" stroke="#8a8a9a" stroke-width="1.0"/>
<polygon points="1571.5,715.0 1571.5,750.0 1576.5,750.0 1576.5,715.0" fill="#f4f4fb" stroke="#8a8a9a" stroke-width="0.9"/>
<line x1="1568.5" y1="715.0" x2="1579.5" y2="715.0" stroke="#8a8a9a" stroke-width="0.9"/>
<line x1="1568.5" y1="750.0" x2="1579.5" y2="750.0" stroke="#8a8a9a" stroke-width="0.9"/>
<polygon points="1568.5,861.0 1568.5,908.0 1579.5,908.0 1579.5,861.0" fill="#eeeef8" stroke="#8a8a9a" stroke-width="1.0"/>
<polygon points="1571.5,867.0 1571.5,902.0 1576.5,902.0 1576.5,867.0" fill="#f4f4fb" stroke="#8a8a9a" stroke-width="0.9"/>
<line x1="1568.5" y1="867.0" x2="1579.5" y2="867.0" stroke="#8a8a9a" stroke-width="0.9"/>
<line x1="1568.5" y1="902.0" x2="1579.5" y2="902.0" stroke="#8a8a9a" stroke-width="0.9"/>
<path d="M1282.9,517 L1282.9,840 Q1286.7,846 1290.6,840 L1290.6,517" fill="#fff" stroke="#888" stroke-width="1"/>
<polygon points="1199.1,985.9 1244.4,960.5 1239.6,951.7 1194.3,977.1" fill="#eeeef8" stroke="#8a8a9a" stroke-width="1.0"/>
<polygon points="1203.0,980.5 1237.9,961.0 1235.7,957.1 1200.8,976.6" fill="#f4f4fb" stroke="#8a8a9a" stroke-width="0.9"/>
<line x1="1204.4" y1="982.9" x2="1199.5" y2="974.2" stroke="#8a8a9a" stroke-width="0.9"/>
<line x1="1239.2" y1="963.4" x2="1234.3" y2="954.7" stroke="#8a8a9a" stroke-width="0.9"/>
<polygon points="1082.9,1108.1 1111.1,1065.1 1102.7,1059.7 1074.5,1102.7" fill="#eeeef8" stroke="#8a8a9a" stroke-width="1.0"/>
<polygon points="1083.3,1102.5 1106.0,1067.8 1102.3,1065.3 1079.6,1100.0" fill="#f4f4fb" stroke="#8a8a9a" stroke-width="0.9"/>
<line x1="1085.6" y1="1104.0" x2="1077.3" y2="1098.5" stroke="#8a8a9a" stroke-width="0.9"/>
<line x1="1108.3" y1="1069.3" x2="1100.0" y2="1063.8" stroke="#8a8a9a" stroke-width="0.9"/>
<polygon points="964.7,1288.4 1002.6,1231.8 993.8,1226.0 955.9,1282.6" fill="#fff" stroke="#808080" stroke-width="1.0"/>
<polygon points="881.6,1414.9 909.5,1372.5 900.7,1366.7 872.8,1409.1" fill="#eeeef8" stroke="#8a8a9a" stroke-width="1.0"/>
<polygon points="881.9,1409.1 904.3,1375.1 900.4,1372.5 878.0,1406.5" fill="#f4f4fb" stroke="#8a8a9a" stroke-width="0.9"/>
<line x1="884.3" y1="1410.7" x2="875.6" y2="1404.9" stroke="#8a8a9a" stroke-width="0.9"/>
<line x1="906.7" y1="1376.7" x2="898.0" y2="1370.9" stroke="#8a8a9a" stroke-width="0.9"/>
<polygon points="583.4,1354.1 647.4,1389.8 652.6,1380.6 588.6,1344.9" fill="#eeeef8" stroke="#8a8a9a" stroke-width="1.0"/>
<polygon points="590.1,1354.5 643.6,1384.3 645.9,1380.2 592.4,1350.4" fill="#f4f4fb" stroke="#8a8a9a" stroke-width="0.9"/>
<line x1="588.7" y1="1357.0" x2="593.8" y2="1347.8" stroke="#8a8a9a" stroke-width="0.9"/>
<line x1="642.2" y1="1386.9" x2="647.3" y2="1377.7" stroke="#8a8a9a" stroke-width="0.9"/>
<circle cx="857.0" cy="181.0" r="8.6" fill="#000"/>
<circle cx="991.0" cy="181.0" r="8.6" fill="#000"/>
<circle cx="1137.5" cy="181.0" r="8.6" fill="#000"/>
<circle cx="1283.5" cy="181.0" r="8.6" fill="#000"/>
<circle cx="873.6" cy="258.6" r="8.6" fill="#000"/>
<circle cx="991.4" cy="259.5" r="8.6" fill="#000"/>
<circle cx="1137.5" cy="259.5" r="8.6" fill="#000"/>
<circle cx="1283.5" cy="259.5" r="8.6" fill="#000"/>
<circle cx="717.3" cy="256.0" r="8.6" fill="#000"/>
<circle cx="638.0" cy="391.5" r="8.6" fill="#000"/>
<circle cx="556.7" cy="528.8" r="8.6" fill="#000"/>
<circle cx="475.3" cy="669.8" r="8.6" fill="#000"/>
<circle cx="417.3" cy="771.3" r="8.6" fill="#000"/>
<circle cx="472.0" cy="941.0" r="8.6" fill="#000"/>
<circle cx="567.5" cy="998.0" r="8.6" fill="#000"/>
<circle cx="772.0" cy="306.8" r="8.6" fill="#000"/>
<circle cx="712.0" cy="417.5" r="8.6" fill="#000"/>
<circle cx="591.0" cy="636.8" r="10.4" fill="#000"/>
<circle cx="546.5" cy="708.0" r="10.4" fill="#000"/>
<circle cx="509.6" cy="785.5" r="8.6" fill="#000"/>
<circle cx="542.0" cy="886.5" r="8.6" fill="#000"/>
<circle cx="606.8" cy="932.4" r="8.6" fill="#000"/>
<text x="1183.3" y="221.3" font-size="18.2" text-anchor="middle" textLength="82.6" lengthAdjust="spacingAndGlyphs" fill="#000" stroke="#000" stroke-width="0.15">BALCONY</text>
<text x="1183.2" y="241.7" font-size="18.2" text-anchor="middle" textLength="115.6" lengthAdjust="spacingAndGlyphs" fill="#000" stroke="#000" stroke-width="0.15">33’5” x 4’10”</text>
<text x="658.4" y="470.3" font-size="18.2" text-anchor="middle" textLength="83.9" lengthAdjust="spacingAndGlyphs" fill="#000" stroke="#000" stroke-width="0.15">BALCONY</text>
<text x="659.0" y="491.9" font-size="18.2" text-anchor="middle" textLength="105.5" lengthAdjust="spacingAndGlyphs" fill="#000" stroke="#000" stroke-width="0.15">33’1” x 4’6”</text>
<text x="1058.8" y="474.0" font-size="19.2" text-anchor="middle" textLength="45.9" lengthAdjust="spacingAndGlyphs" fill="#000" stroke="#000" stroke-width="0.15">VOID</text>
<text x="1442.3" y="382.0" font-size="19.4" text-anchor="middle" textLength="90.7" lengthAdjust="spacingAndGlyphs" fill="#000" stroke="#000" stroke-width="0.15">BEDROOM</text>
<text x="1443.7" y="403.5" font-size="19.4" text-anchor="middle" textLength="117.4" lengthAdjust="spacingAndGlyphs" fill="#000" stroke="#000" stroke-width="0.15">16’6” x 14’4”</text>
<text x="720.6" y="751.0" font-size="18.6" text-anchor="middle" textLength="91.5" lengthAdjust="spacingAndGlyphs" fill="#000" stroke="#000" stroke-width="0.15">BEDROOM</text>
<text x="720.6" y="772.8" font-size="18.6" text-anchor="middle" textLength="114.4" lengthAdjust="spacingAndGlyphs" fill="#000" stroke="#000" stroke-width="0.15">24’8” x 23’4”</text>
<text x="1477.2" y="798.0" font-size="19.4" text-anchor="middle" textLength="90.8" lengthAdjust="spacingAndGlyphs" fill="#000" stroke="#000" stroke-width="0.15">BEDROOM</text>
<text x="1477.7" y="819.4" font-size="19.4" text-anchor="middle" textLength="126.0" lengthAdjust="spacingAndGlyphs" fill="#000" stroke="#000" stroke-width="0.15">12’11” x 13’1”</text>
<text x="1273.0" y="878.9" font-size="19.2" text-anchor="middle" textLength="82.2" lengthAdjust="spacingAndGlyphs" fill="#000" stroke="#000" stroke-width="0.15">LANDING</text>
<text x="1273.2" y="900.4" font-size="19.2" text-anchor="middle" textLength="126.5" lengthAdjust="spacingAndGlyphs" fill="#000" stroke="#000" stroke-width="0.15">23’7” x 23’10”</text>
<text x="1507.0" y="577.3" font-size="20.4" text-anchor="middle" textLength="70.0" lengthAdjust="spacingAndGlyphs" fill="#000" stroke="#000" stroke-width="0.15">CLOSET</text>
<text x="1532.1" y="637.5" font-size="18.6" text-anchor="middle" textLength="68.8" lengthAdjust="spacingAndGlyphs" fill="#000" stroke="#000" stroke-width="0.15">CLOSET</text>
<text x="1423.2" y="638.0" font-size="8.2" text-anchor="middle" textLength="40.1" lengthAdjust="spacingAndGlyphs" fill="#000" stroke="#000" stroke-width="0.35">BATHROOM</text>
<text x="1423.5" y="646.1" font-size="8.2" text-anchor="middle" textLength="42.4" lengthAdjust="spacingAndGlyphs" fill="#000" stroke="#000" stroke-width="0.35">8’0” x 4’10”</text>
<text x="1502.9" y="208.6" font-size="10.6" text-anchor="middle" textLength="45.8" lengthAdjust="spacingAndGlyphs" fill="#000" stroke="#000" stroke-width="0.35">EN-SUITE</text>
<text x="1503.0" y="220.0" font-size="10.6" text-anchor="middle" textLength="55.9" lengthAdjust="spacingAndGlyphs" fill="#000" stroke="#000" stroke-width="0.35">8’4” x 4’10”</text>
<text x="855.0" y="933.6" font-size="19.6" text-anchor="middle" textLength="66.7" lengthAdjust="spacingAndGlyphs" fill="#000" stroke="#000" stroke-width="0.15" transform="rotate(-90 855.0 933.6)">CLOSET</text>
<text x="876.4" y="932.4" font-size="19.6" text-anchor="middle" textLength="124.8" lengthAdjust="spacingAndGlyphs" fill="#000" stroke="#000" stroke-width="0.15" transform="rotate(-90 876.4 932.4)">13’10” x 11’5”</text>
<text x="911.0" y="1183.6" font-size="18.6" text-anchor="middle" textLength="91.5" lengthAdjust="spacingAndGlyphs" fill="#000" stroke="#000" stroke-width="0.15">BEDROOM</text>
<text x="911.7" y="1205.5" font-size="18.6" text-anchor="middle" textLength="126.6" lengthAdjust="spacingAndGlyphs" fill="#000" stroke="#000" stroke-width="0.15">13’10” x 11’5”</text>
<text x="715.0" y="1257.4" font-size="18.6" text-anchor="middle" textLength="102.1" lengthAdjust="spacingAndGlyphs" fill="#000" stroke="#000" stroke-width="0.15">BATHROOM</text>
<text x="715.8" y="1278.7" font-size="18.6" text-anchor="middle" textLength="115.9" lengthAdjust="spacingAndGlyphs" fill="#000" stroke="#000" stroke-width="0.15">22’4” x 13’0”</text>
<text x="1053.0" y="1046.3" font-size="9.4" text-anchor="middle" textLength="42.3" lengthAdjust="spacingAndGlyphs" fill="#000" stroke="#000" stroke-width="0.35">LAUNDRY</text>
<text x="1053.0" y="1057.8" font-size="9.4" text-anchor="middle" textLength="54.0" lengthAdjust="spacingAndGlyphs" fill="#000" stroke="#000" stroke-width="0.35">5’11” x 7’3”</text>
<text x="572.5" y="1074.5" font-size="13.6" text-anchor="middle" textLength="61.0" lengthAdjust="spacingAndGlyphs" fill="#000" stroke="#000" stroke-width="0.15" transform="rotate(-17 572.5 1074.5)">BALCONY</text>
<text x="578.5" y="1091.0" font-size="13.6" text-anchor="middle" textLength="76.0" lengthAdjust="spacingAndGlyphs" fill="#000" stroke="#000" stroke-width="0.15" transform="rotate(-17 578.5 1091.0)">33’1” x 4’6”</text>
<polygon points="1200.4,174.3 1208.0,182.0 1192.8,182.0" fill="#000"/>
<polygon points="1192.8,253.0 1208.0,253.0 1200.4,260.7" fill="#000"/>
<polygon points="869.4,222.5 877.0,215.0 877.0,230.0" fill="#000"/>
<polygon points="1417.7,215.0 1425.4,222.5 1417.7,230.0" fill="#000"/>
<polygon points="1435.5,222.5 1443.0,215.0 1443.0,230.0" fill="#000"/>
<polygon points="1560.0,215.0 1567.7,222.5 1560.0,230.0" fill="#000"/>
<polygon points="1482.5,174.0 1490.0,182.0 1475.0,182.0" fill="#000"/>
<polygon points="1475.0,253.0 1490.0,253.0 1482.5,260.7" fill="#000"/>
<polygon points="1482.5,273.5 1490.0,281.0 1475.0,281.0" fill="#000"/>
<polygon points="1289.5,394.8 1297.3,387.0 1297.3,402.5" fill="#000"/>
<polygon points="1560.0,387.0 1567.8,394.8 1560.0,402.5" fill="#000"/>
<polygon points="1475.0,505.0 1490.6,505.0 1482.8,513.0" fill="#000"/>
<polygon points="1322.2,521.5 1328.7,528.6 1315.8,528.6" fill="#000"/>
<polygon points="1415.4,615.5 1422.8,623.3 1408.0,623.3" fill="#000"/>
<polygon points="1408.0,689.0 1423.0,689.0 1415.5,697.6" fill="#000"/>
<polygon points="1356.0,651.9 1363.0,644.7 1363.0,659.0" fill="#000"/>
<polygon points="1480.5,644.7 1487.7,651.9 1480.5,659.0" fill="#000"/>
<polygon points="1447.5,703.0 1456.0,712.0 1439.0,712.0" fill="#000"/>
<polygon points="1439.0,914.0 1456.0,914.0 1447.5,922.5" fill="#000"/>
<polygon points="1354.5,861.6 1363.0,853.8 1363.0,869.5" fill="#000"/>
<polygon points="1340.0,853.8 1347.0,861.6 1340.0,869.5" fill="#000"/>
<polygon points="1560.7,853.8 1568.0,861.6 1560.7,869.5" fill="#000"/>
<polygon points="1314.0,913.6 1329.0,913.6 1321.5,922.0" fill="#000"/>
<polygon points="732.0,301.2 743.5,300.0 744.8,310.1" fill="#000"/>
<polygon points="592.2,462.7 601.2,460.1 594.8,472.8" fill="#000"/>
<polygon points="456.4,767.3 469.1,774.2 458.4,777.1" fill="#000"/>
<polygon points="439.8,853.3 448.6,850.4 441.8,864.0" fill="#000"/>
<polygon points="585.3,891.4 596.0,901.1 588.2,902.1" fill="#000"/>
<polygon points="642.0,958.8 651.7,955.8 653.7,966.6" fill="#000"/>
<polygon points="661.5,986.0 659.0,999.8 651.7,997.0" fill="#000"/>
<polygon points="481.7,659.6 491.8,648.2 490.0,659.0" fill="#000"/>
<polygon points="569.4,707.0 579.5,719.4 571.0,719.4" fill="#000"/>
<polygon points="868.0,607.0 878.0,606.0 877.0,617.7" fill="#000"/>
<polygon points="586.0,1166.7 596.0,1154.0 590.0,1156.0" fill="#000"/>
<polygon points="461.3,1264.6 474.0,1270.0 463.0,1273.5" fill="#000"/>
<polygon points="766.4,1213.8 776.5,1215.0 774.5,1225.2" fill="#000"/>
<polygon points="823.6,1227.5 835.0,1235.4 824.0,1235.4" fill="#000"/>
<polygon points="847.7,1090.5 859.0,1079.0 849.0,1081.0" fill="#000"/>
<polygon points="891.2,1366.6 900.3,1354.4 899.0,1366.0" fill="#000"/>
<polygon points="981.0,1224.7 995.0,1214.0 991.0,1224.0" fill="#000"/>
<polygon points="624.2,1354.4 635.0,1362.0 626.0,1366.6" fill="#000"/>
<polygon points="812.0,885.3 822.7,872.4 821.0,884.0" fill="#000"/>
<polygon points="828.0,885.3 840.0,891.0 829.0,897.0" fill="#000"/>
<polygon points="901.6,855.0 911.7,853.0 914.5,863.6" fill="#000"/>
<polygon points="962.3,860.6 953.7,868.0 962.3,874.5" fill="#000"/>
<polygon points="898.0,956.0 909.7,944.3 907.0,956.0" fill="#000"/>
<polygon points="848.5,1090.4 859.2,1079.7 849.0,1080.0" fill="#000"/>
<polygon points="1024.6,1030.3 1035.4,1018.5 1027.0,1019.0" fill="#000"/>
<polygon points="1088.0,1005.6 1093.0,994.8 1098.7,1005.6" fill="#000"/>
<polygon points="1088.0,1067.8 1098.7,1057.0 1096.0,1067.0" fill="#000"/>
<polygon points="974.0,1058.0 987.0,1055.0 986.0,1063.5" fill="#000"/>
<polygon points="1014.0,1079.7 1024.6,1088.3 1016.0,1088.3" fill="#000"/>
<polygon points="783.0,1000.0 794.8,997.0 790.0,1006.0" fill="#000"/>
<path d="M1122.3,615.5 C1127.5,621.1 1142.7,635.1 1153.3,648.9 C1163.8,662.7 1176.4,681.5 1185.4,698.4 C1194.5,715.3 1203.0,735.5 1207.7,750.4 C1212.5,765.2 1213.1,775.1 1213.9,787.5 C1214.7,799.9 1214.5,812.3 1212.7,824.7 C1210.8,837.0 1207.7,850.6 1202.8,861.8 C1197.8,872.9 1191.2,884.5 1183.0,891.5 C1174.7,898.5 1164.0,902.4 1153.3,903.9 C1142.5,905.3 1131.8,903.9 1118.6,900.1 C1105.4,896.4 1088.9,890.9 1074.1,881.6 C1059.2,872.3 1041.9,858.5 1029.5,844.5 C1017.1,830.4 1004.8,805.3 999.8,797.4" fill="none" stroke="#7a7a7a" stroke-width="1.0"/>
<path d="M1127.3,611.8 C1132.4,617.4 1147.7,631.2 1158.2,645.2 C1168.7,659.2 1181.2,678.6 1190.4,695.9 C1199.6,713.3 1208.4,733.9 1213.2,749.2 C1217.9,764.4 1218.1,774.9 1218.9,787.5 C1219.6,800.1 1219.6,812.1 1217.6,824.7 C1215.7,837.2 1212.4,851.3 1207.2,863.0 C1202.1,874.8 1195.7,887.6 1186.7,895.2 C1177.7,902.7 1164.8,906.7 1153.3,908.3 C1141.7,909.9 1131.0,908.4 1117.4,904.6 C1103.8,900.8 1086.7,895.2 1071.6,885.8 C1056.4,876.4 1039.1,862.7 1026.5,848.2 C1014.0,833.6 1001.2,806.9 996.1,798.7" fill="none" stroke="#7a7a7a" stroke-width="1.0"/>
<path d="M1122.3,615.5 L1127.3,611.8" fill="none" stroke="#7a7a7a" stroke-width="1.0"/>
<path d="M1157.0,562.8 C1162.5,567.8 1178.6,579.9 1190.4,593.2 C1202.2,606.5 1216.4,626.2 1227.5,642.7 C1238.7,659.2 1249.0,676.8 1257.2,692.2 C1265.5,707.7 1272.7,725.8 1277.0,735.5 C1281.4,745.2 1282.2,747.9 1283.2,750.4" fill="none" stroke="#7a7a7a" stroke-width="1.0"/>
<path d="M1160.7,559.3 C1166.3,564.3 1182.2,576.2 1194.1,589.5 C1206.0,602.8 1220.6,622.5 1232.0,639.0 C1243.3,655.5 1253.8,673.0 1262.2,688.5 C1270.6,704.0 1279.0,724.4 1282.5,731.8 C1286.0,739.3 1283.1,732.9 1283.2,733.1" fill="none" stroke="#7a7a7a" stroke-width="1.0"/>
<path d="M1157.0,562.8 L1160.7,559.3" fill="none" stroke="#7a7a7a" stroke-width="1.0"/>
<path d="M1283.2,747.9 L1283.2,817.2" fill="none" stroke="#7a7a7a" stroke-width="1.0"/>
<path d="M1128.5,614.3 L1160.7,567.2" fill="none" stroke="#7a7a7a" stroke-width="0.9"/>
<path d="M1137.2,621.7 L1174.3,583.3" fill="none" stroke="#7a7a7a" stroke-width="0.9"/>
<path d="M1149.6,635.3 L1190.4,596.9" fill="none" stroke="#7a7a7a" stroke-width="0.9"/>
<path d="M1158.2,646.4 L1199.1,610.5" fill="none" stroke="#7a7a7a" stroke-width="0.9"/>
<path d="M1165.6,656.3 L1212.7,624.2" fill="none" stroke="#7a7a7a" stroke-width="0.9"/>
<path d="M1173.1,668.7 L1230.0,639.0" fill="none" stroke="#7a7a7a" stroke-width="0.9"/>
<path d="M1181.7,681.1 L1239.9,653.9" fill="none" stroke="#7a7a7a" stroke-width="0.9"/>
<path d="M1187.9,692.2 L1247.3,667.5" fill="none" stroke="#7a7a7a" stroke-width="0.9"/>
<path d="M1195.3,705.8 L1256.0,686.0" fill="none" stroke="#7a7a7a" stroke-width="0.9"/>
<path d="M1201.5,718.2 L1263.4,699.7" fill="none" stroke="#7a7a7a" stroke-width="0.9"/>
<path d="M1206.5,731.8 L1268.4,715.7" fill="none" stroke="#7a7a7a" stroke-width="0.9"/>
<path d="M1211.4,745.4 L1274.6,734.3" fill="none" stroke="#7a7a7a" stroke-width="0.9"/>
<path d="M1215.1,760.3 L1279.5,750.4" fill="none" stroke="#7a7a7a" stroke-width="0.9"/>
<path d="M1217.6,773.9 L1282.5,767.7" fill="none" stroke="#7a7a7a" stroke-width="0.9"/>
<path d="M1218.9,787.5 L1282.5,785.0" fill="none" stroke="#7a7a7a" stroke-width="0.9"/>
<path d="M1218.9,801.1 L1282.5,801.1" fill="none" stroke="#7a7a7a" stroke-width="0.9"/>
<path d="M1218.9,817.2 L1282.5,817.2" fill="none" stroke="#7a7a7a" stroke-width="0.9"/>
<path d="M1252.3,817.2 C1251.5,808.2 1250.2,779.3 1247.3,762.8 C1244.4,746.3 1239.9,731.4 1235.0,718.2 C1230.0,705.0 1223.8,694.7 1217.6,683.6 C1211.4,672.4 1204.4,661.3 1197.8,651.4 C1191.2,641.5 1186.3,633.2 1178.0,624.2 C1169.8,615.1 1153.3,601.5 1148.3,596.9" fill="none" stroke="#999" stroke-width="0.9"/>
<polygon points="1144.6,594.5 1150.8,601.4 1153.3,597.4" fill="#999" stroke="none" stroke-width="1"/>
<path d="M1450.8,176 L1450.8,218.8 L1468.6,218.8 L1468.6,260.7" fill="none" stroke="#7a7a7a" stroke-width="1.0"/>
<path d="M1450.8,190.8 L1466,190.8 A12,11.4 0 0 1 1466,213.7 L1450.8,213.7" fill="none" stroke="#7a7a7a" stroke-width="1.0"/>
<ellipse cx="1453.3" cy="240.4" rx="10.5" ry="11.4" fill="none" stroke="#7a7a7a" stroke-width="1"/>
<circle cx="1453.6" cy="240.4" r="1.3" fill="#555"/>
<rect x="1441" y="238.6" width="7" height="3.4" rx="1.5" fill="none" stroke="#7a7a7a" stroke-width="0.8"/>
<path d="M1532,176 L1532,262" fill="none" stroke="#7a7a7a" stroke-width="1.0"/>
<rect x="1534" y="187" width="32.5" height="70" rx="15" fill="none" stroke="#7a7a7a" stroke-width="1"/>
<path d="M1371.7,614.6 L1371.7,647.5 L1388.9,647.5 L1388.9,697" fill="none" stroke="#7a7a7a" stroke-width="1.0"/>
<path d="M1371.7,624.6 L1386,624.6 A12.5,11.5 0 0 1 1386,647.5 L1371.7,647.5" fill="none" stroke="#7a7a7a" stroke-width="1.0"/>
<ellipse cx="1375.4" cy="674.7" rx="11" ry="12" fill="none" stroke="#7a7a7a" stroke-width="1"/>
<circle cx="1375.6" cy="674.7" r="1.2" fill="#555"/>
<path d="M1450.5,614.6 L1450.5,697" fill="none" stroke="#7a7a7a" stroke-width="1.0"/>
<rect x="1454" y="621.7" width="33" height="69.6" rx="14" fill="none" stroke="#7a7a7a" stroke-width="1"/>
<rect x="1470.5" y="520" width="80.2" height="66" fill="none" stroke="#7a7a7a" stroke-width="1"/>
<polygon points="1048.7,1014.9 1067.0,985.0 1092.3,1001.2 1076.7,1029.8" fill="none" stroke="#7a7a7a" stroke-width="1"/>
<polygon points="1076.7,1029.8 1092.3,1001.2 1121.6,1020.7 1106.0,1050.7" fill="none" stroke="#7a7a7a" stroke-width="1"/>
<path d="M1003.8,1059.8 L1026.0,1074.0 L1036.4,1063.7 L1082.0,1089.0" fill="none" stroke="#7a7a7a" stroke-width="1.0"/>
<polygon points="1045.5,1075.4 1073.5,1091.0 1062.4,1109.3 1037.0,1093.7" fill="none" stroke="#7a7a7a" stroke-width="1"/>
<circle cx="1055" cy="1092" r="1.6" fill="none" stroke="#555" stroke-width="0.8"/>
<path d="M743.2,1204.9 L747.8,1229.3 L778.3,1250.7 L775.3,1253.7 L805.7,1270.5 L808.8,1267.5 L851.5,1293.4 L848.4,1299.5 L894.2,1322.4 L897.3,1317.8 L921.7,1333.0" fill="none" stroke="#7a7a7a" stroke-width="1.0"/>
<ellipse cx="796.6" cy="1249.1" rx="10.5" ry="10" fill="none" stroke="#7a7a7a" stroke-width="1"/>
<circle cx="796.6" cy="1250.1" r="1.2" fill="#555"/>
<ellipse cx="880.5" cy="1294.9" rx="10.5" ry="10" fill="none" stroke="#7a7a7a" stroke-width="1"/>
<circle cx="880.5" cy="1295.9" r="1.2" fill="#555"/>
<path d="M563.2,1258.3 L613.5,1285.8 L641.0,1279.7 L685.2,1305.6 L691.3,1333.0 L662.4,1384.9" fill="none" stroke="#7a7a7a" stroke-width="1.0"/>
<path d="M567.0,1252.0 L613.5,1278.0 L608.0,1286.0 L577.0,1336.0" fill="none" stroke="#7a7a7a" stroke-width="1.0"/>
<path d="M582.0,1340.0 L613.5,1285.8" fill="none" stroke="#7a7a7a" stroke-width="1.0"/>
<ellipse cx="633.4" cy="1339.1" rx="35" ry="20" transform="rotate(25 633.4 1339.1)" fill="none" stroke="#7a7a7a" stroke-width="1"/>
<path d="M720.3,1357.4 L750.8,1342.2 L802.7,1369.6 L818.0,1409.3 L793.5,1455.0" fill="none" stroke="#7a7a7a" stroke-width="1.0"/>
<path d="M723.0,1363.0 L750.8,1349.0 L797.0,1374.0 L811.0,1409.3 L788.0,1452.0" fill="none" stroke="#7a7a7a" stroke-width="1.0"/>
<path d="M745.0,1351.0 L775.2,1442.9" fill="none" stroke="#555" stroke-width="1.0"/>
<path d="M708.0,1403.2 L807.0,1394.0" fill="none" stroke="#555" stroke-width="1.0"/>
<path d="M803.4,1454.2 L810.5,1439.4 Q814,1431 820.6,1431.6 Q828,1432 830,1434.7 Q836,1440 834.7,1442.5 L832.3,1451.9 L823.75,1465.9" fill="none" stroke="#7a7a7a" stroke-width="1.0"/>
<polygon points="803.4,1454.2 823.8,1465.9 819.0,1474.9 798.4,1463.2" fill="none" stroke="#7a7a7a" stroke-width="1"/>
<path d="M692.9,1391.0 L700.0,1389.0 L708.0,1409.3" fill="none" stroke="#7a7a7a" stroke-width="1.0"/>
</svg></body></html>
